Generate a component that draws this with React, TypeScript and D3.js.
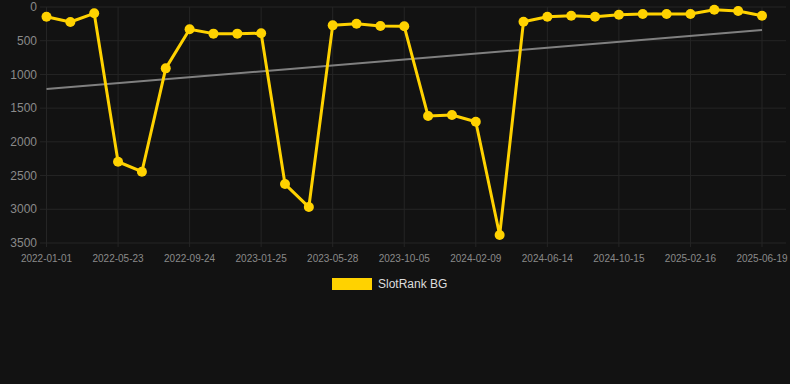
import React from "react";
import * as d3 from "d3";

const dates = [
  "2022-01-01", "2022-02-17", "2022-04-05", "2022-05-23", "2022-07-09", "2022-08-17",
  "2022-09-24", "2022-11-05", "2022-12-15", "2023-01-25", "2023-03-10", "2023-04-18",
  "2023-05-28", "2023-07-10", "2023-08-22", "2023-10-05", "2023-11-15", "2023-12-28",
  "2024-02-09", "2024-03-20", "2024-05-02", "2024-06-14", "2024-07-25", "2024-09-03",
  "2024-10-15", "2024-11-28", "2025-01-05", "2025-02-16", "2025-03-30", "2025-05-08",
  "2025-06-19",
];
const ranks = [
  145, 222, 94, 2295, 2443, 910,
  331, 395, 395, 390, 2626, 2967,
  272, 248, 282, 286, 1617, 1602,
  1702, 3382, 218, 144, 129, 144,
  114, 104, 104, 104, 40, 59,
  129,
];
const trendStart = 1217;
const trendEnd = 341;
const yTicks = [0, 500, 1000, 1500, 2000, 2500, 3000, 3500];
const seriesName = "SlotRank BG";

const W = 790;
const H = 384;
const GOLD = "#FFD200";
const FONT = "'Liberation Sans', Arial, Helvetica, sans-serif";

export default function App() {
  const x = d3.scalePoint<string>().domain(dates).range([46.5, 762]);
  const y = d3.scaleLinear().domain([0, 3500]).range([7, 243]);
  const line = d3
    .line<number>()
    .x((_, i) => x(dates[i]) as number)
    .y((d) => y(d));
  const labelDates = dates.filter((_, i) => i % 3 === 0);
  const x0 = x(dates[0]) as number;
  const x1 = x(dates[dates.length - 1]) as number;

  return (
    <div style={{ position: "fixed", left: 0, top: 0, width: W, height: H, background: "#121212" }}>
      <svg width={W} height={H} style={{ display: "block", fontFamily: FONT }}>
        <rect x={0} y={0} width={W} height={H} fill="#121212" />
        {yTicks.map((t) => (
          <g key={t}>
            <line x1={40} x2={786} y1={y(t)} y2={y(t)} stroke="#252525" strokeWidth={1} />
            <text x={37} y={y(t)} dy="0.35em" textAnchor="end" fontSize={12} fill="#8a8a8a">
              {t}
            </text>
          </g>
        ))}
        {labelDates.map((d) => (
          <g key={d}>
            <line x1={x(d)} x2={x(d)} y1={y(0)} y2={y(3500) + 4} stroke="#252525" strokeWidth={1} />
            <text x={x(d)} y={262} textAnchor="middle" fontSize={10} fill="#8a8a8a">
              {d}
            </text>
          </g>
        ))}
        <line x1={x0} x2={x1} y1={y(trendStart)} y2={y(trendEnd)} stroke="#808080" strokeWidth={2} />
        <path d={line(ranks) || ""} fill="none" stroke={GOLD} strokeWidth={3} strokeLinejoin="round" />
        {ranks.map((v, i) => (
          <circle key={i} cx={x(dates[i])} cy={y(v)} r={5} fill={GOLD} />
        ))}
        <rect x={332} y={278} width={40} height={12} fill={GOLD} />
        <text x={378} y={284} dy="0.35em" fontSize={12} fill="#dddddd">
          {seriesName}
        </text>
      </svg>
    </div>
  );
}
